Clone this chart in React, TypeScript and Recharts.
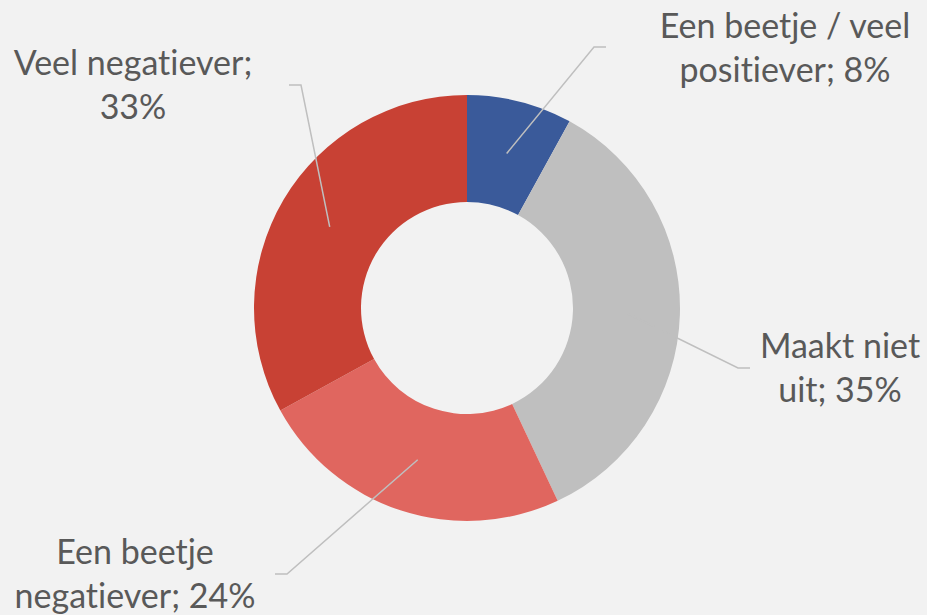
import React from "react";
import { PieChart, Pie, Cell } from "recharts";

const categories = [
  "Een beetje / veel positiever",
  "Maakt niet uit",
  "Een beetje negatiever",
  "Veel negatiever",
];
const values = [8, 35, 24, 33];
const labelLines: string[][] = [
  ["Een beetje / veel", "positiever; 8%"],
  ["Maakt niet", "uit; 35%"],
  ["Een beetje", "negatiever; 24%"],
  ["Veel negatiever;", "33%"],
];
const colors = ["#3A5A9A", "#BFBFBF", "#E0665F", "#C84134"];

// layout: elbow point and first-line baseline of label, relative to pie centre
const elbows = [
  { x: 127, y: -261, dir: 1 },
  { x: 271, y: 60, dir: 1 },
  { x: -180, y: 266, dir: -1 },
  { x: -166, y: -223, dir: -1 },
];
const labelPos = [
  { x: 318, y: -270 },
  { x: 373, y: 50 },
  { x: -332, y: 256 },
  { x: -334, y: -233 },
];

const data = categories.map((name, i) => ({ name, value: values[i] }));

const RAD = Math.PI / 180;

const renderLabel = (props: any) => {
  const { cx, cy, midAngle, innerRadius, outerRadius, index } = props;
  const r = (innerRadius + outerRadius) / 2;
  const sx = cx + r * Math.cos(-midAngle * RAD);
  const sy = cy + r * Math.sin(-midAngle * RAD);
  const e = elbows[index];
  const ex = cx + e.x;
  const ey = cy + e.y;
  const hx = ex + e.dir * 12;
  const lp = labelPos[index];
  const lx = cx + lp.x;
  const ly = cy + lp.y;
  return (
    <g>
      <polyline
        points={`${sx},${sy} ${ex},${ey} ${hx},${ey}`}
        fill="none"
        stroke="#BFBFBF"
        strokeWidth={1.5}
      />
      <text
        x={lx}
        y={ly}
        textAnchor="middle"
        fill="#595959"
        fontFamily="Lato, 'Open Sans', sans-serif"
        fontSize={34}
        style={{ fontVariantLigatures: "none" }}
      >
        <tspan x={lx} y={ly}>{labelLines[index][0]}</tspan>
        <tspan x={lx} y={ly + 44}>{labelLines[index][1]}</tspan>
      </text>
    </g>
  );
};

export default function App() {
  return (
    <div
      style={{
        position: "fixed",
        top: 0,
        left: 0,
        width: 927,
        height: 615,
        background: "#F2F2F2",
      }}
    >
      <PieChart width={927} height={615} margin={{ top: 0, right: 0, bottom: 0, left: 0 }}>
        <Pie
          data={data}
          dataKey="value"
          nameKey="name"
          cx={467}
          cy={308}
          innerRadius={106}
          outerRadius={213}
          startAngle={90}
          endAngle={-270}
          stroke="none"
          label={renderLabel}
          labelLine={false}
          isAnimationActive={false}
        >
          {data.map((d, i) => (
            <Cell key={d.name} fill={colors[i]} />
          ))}
        </Pie>
      </PieChart>
    </div>
  );
}
